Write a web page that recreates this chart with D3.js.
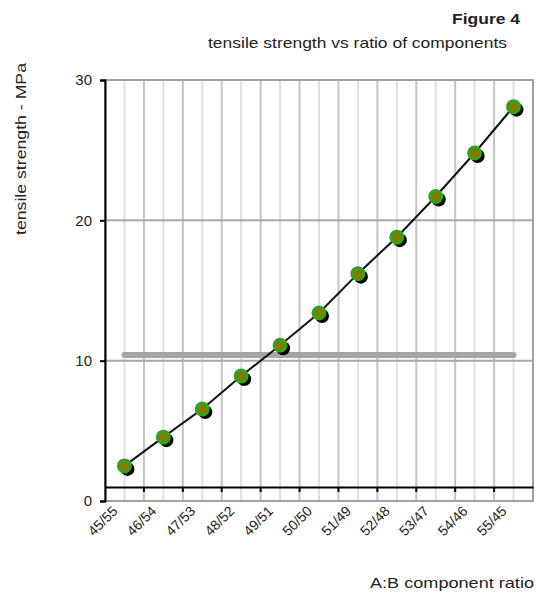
<!DOCTYPE html>
<html>
<head>
<meta charset="utf-8">
<script src="https://cdn.jsdelivr.net/npm/d3@7"></script>
<style>
  html, body { margin: 0; padding: 0; background: #fff; }
  text { font-family: "Liberation Sans", Arial, sans-serif; fill: #222; }
</style>
</head>
<body>
<svg id="chart" width="537" height="597"></svg>
<script>
const categories = ["45/55","46/54","47/53","48/52","49/51","50/50","51/49","52/48","53/47","54/46","55/45"];
const strength = [2.5, 4.55, 6.55, 8.9, 11.1, 13.4, 16.2, 18.8, 21.7, 24.8, 28.1];
const referenceLevel = 10.4;
const yTicks = [0, 10, 20, 30];
const xAxisCross = 1;

(function () {
const svg = d3.select("#chart");
const pLeft = 105, pRight = 533, pTop = 80, pBottom = 501;

const x = d3.scaleBand().domain(categories).range([pLeft, pRight]).padding(0);
const y = d3.scaleLinear().domain([0, 30]).range([pBottom, pTop]);
const cx = d => x(d) + x.bandwidth() / 2;

// minor vertical gridlines (category centres)
svg.append("g").selectAll("line").data(categories).join("line")
  .attr("x1", cx).attr("x2", cx).attr("y1", pTop).attr("y2", pBottom)
  .attr("stroke", "#e0e0e0").attr("stroke-width", 2);

// major vertical gridlines (category boundaries)
svg.append("g").selectAll("line").data(categories.slice(1)).join("line")
  .attr("x1", d => x(d)).attr("x2", d => x(d)).attr("y1", pTop).attr("y2", pBottom)
  .attr("stroke", "#c4c4c4").attr("stroke-width", 2);

// horizontal gridlines
svg.append("g").selectAll("line").data(yTicks.filter(t => t > 0 && t < 30)).join("line")
  .attr("x1", pLeft).attr("x2", pRight).attr("y1", d => y(d)).attr("y2", d => y(d))
  .attr("stroke", "#a8a8a8").attr("stroke-width", 2);

// plot border
svg.append("rect").attr("x", pLeft).attr("y", pTop).attr("width", pRight - pLeft).attr("height", pBottom - pTop)
  .attr("fill", "none").attr("stroke", "#a0a0a0").attr("stroke-width", 2);

// reference bar
svg.append("line")
  .attr("x1", cx(categories[0])).attr("x2", cx(categories[categories.length - 1]))
  .attr("y1", y(referenceLevel)).attr("y2", y(referenceLevel))
  .attr("stroke", "#a6a6a6").attr("stroke-width", 6).attr("stroke-linecap", "round");

// y axis
const yAxis = d3.axisLeft(y).tickValues(yTicks).tickSize(5).tickPadding(8).tickFormat(d3.format("d"));
const gy = svg.append("g").attr("transform", `translate(${pLeft},0)`).call(yAxis);
gy.select(".domain").attr("stroke", "#000").attr("stroke-width", 2);
gy.selectAll(".tick line").attr("stroke", "#000").attr("stroke-width", 2);
gy.selectAll(".tick text").style("font-size", "15px").style("font-family", "Liberation Sans, Arial, sans-serif").attr("fill", "#333");

// x axis (crossing at value 1)
const xAxis = d3.axisBottom(x).tickSize(0).tickFormat("");
const gx = svg.append("g").attr("transform", `translate(0,${y(xAxisCross)})`).call(xAxis);
gx.select(".domain").attr("stroke", "#000").attr("stroke-width", 2);
gx.selectAll(".bound").data(categories.slice(1)).join("line").attr("class", "bound")
  .attr("x1", d => x(d)).attr("x2", d => x(d)).attr("y1", 0).attr("y2", 5)
  .attr("stroke", "#000").attr("stroke-width", 2);

// x labels rotated
svg.append("g").selectAll("text").data(categories).join("text")
  .attr("transform", d => `translate(${cx(d) - 6},${pBottom + 11}) rotate(-45)`)
  .attr("text-anchor", "end")
  .style("font-size", "14px")
  .attr("fill", "#333")
  .text(d => d);

// line
const line = d3.line().x((d, i) => cx(categories[i])).y(d => y(d));
svg.append("path").datum(strength).attr("d", line)
  .attr("fill", "none").attr("stroke", "#111").attr("stroke-width", 2);

// shadows
svg.append("g").selectAll("circle").data(strength).join("circle")
  .attr("cx", (d, i) => cx(categories[i]) + 3).attr("cy", d => y(d) + 3).attr("r", 7)
  .attr("fill", "#000");

// markers
svg.append("g").selectAll("circle").data(strength).join("circle")
  .attr("cx", (d, i) => cx(categories[i])).attr("cy", d => y(d)).attr("r", 6)
  .attr("fill", "#857a00").attr("stroke", "#2fa41c").attr("stroke-width", 3);

// titles
svg.append("text").attr("x", 520).attr("y", 24).attr("text-anchor", "end")
  .style("font-size", "14px").style("font-weight", "bold").attr("fill", "#111")
  .attr("textLength", 68).attr("lengthAdjust", "spacingAndGlyphs").text("Figure 4");
svg.append("text").attr("x", 507).attr("y", 48).attr("text-anchor", "end")
  .style("font-size", "15px").attr("fill", "#111")
  .attr("textLength", 299).attr("lengthAdjust", "spacingAndGlyphs")
  .text("tensile strength vs ratio of components");
svg.append("text").attr("x", 534).attr("y", 588).attr("text-anchor", "end")
  .style("font-size", "15px").attr("fill", "#222")
  .attr("textLength", 164).attr("lengthAdjust", "spacingAndGlyphs")
  .text("A:B component ratio");
svg.append("text").attr("transform", "translate(26,149) rotate(-90)").attr("text-anchor", "middle")
  .style("font-size", "14px").attr("fill", "#222")
  .attr("textLength", 172).attr("lengthAdjust", "spacingAndGlyphs")
  .text("tensile strength - MPa");
})();
</script>
</body>
</html>
